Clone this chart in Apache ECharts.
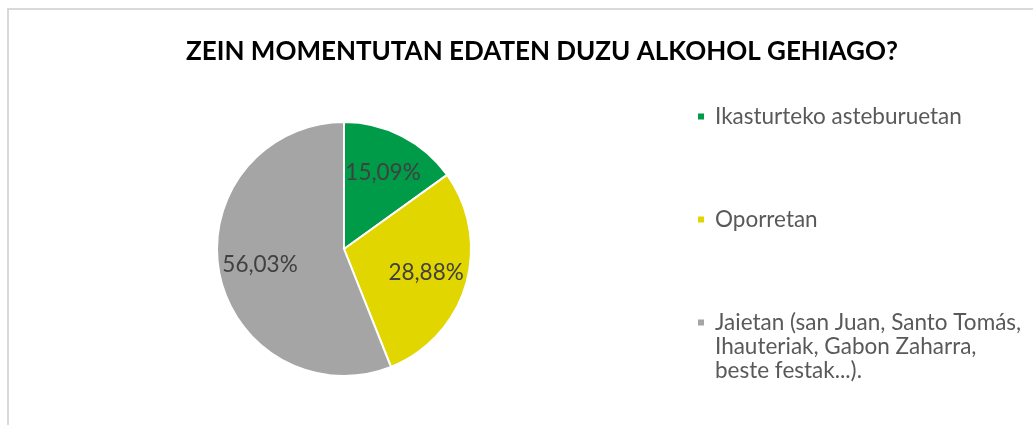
<!DOCTYPE html>
<html>
<head>
<meta charset="utf-8">
<script src="https://cdn.jsdelivr.net/npm/echarts@6/dist/echarts.min.js"></script>
<style>
  html, body { margin: 0; padding: 0; background: #fff; }
  #frame { position: absolute; left: 7px; top: 8px; width: 1100px; height: 500px; border: 2px solid #D9D9D9; box-sizing: border-box; }
  #main { position: absolute; left: 0; top: 0; width: 1033px; height: 425px; }
</style>
</head>
<body>
<div id="frame"></div>
<div id="main"></div>
<script>
// chart data
var categories = ['Ikasturteko asteburuetan', 'Oporretan', 'Jaietan (san Juan, Santo Tomás,\nIhauteriak, Gabon Zaharra,\nbeste festak...).'];
var values = [15.09, 28.88, 56.03];
var colors = ['#009B48', '#E1D600', '#A5A5A5'];

var myChart = echarts.init(document.getElementById('main'));

var pieData = categories.map(function (name, i) {
    return { name: name, value: values[i], itemStyle: { color: colors[i] } };
});

// legend text style (rich so the text can sit a bit further from the marker)
var legendText = {
    rich: {
        t: { fontFamily: 'Lato', fontSize: 22.5, color: '#595959', lineHeight: 24, padding: [0, 0, 0, 5] }
    }
};

function makeLegend(idx, top, prefix) {
    return {
        orient: 'vertical', left: 696, top: top, padding: 0,
        itemWidth: 8, itemHeight: 8, icon: 'rect',
        data: [categories[idx]],
        textStyle: legendText,
        formatter: function (name) { return prefix + '{t|' + name + '}'; }
    };
}

var option = {
    animation: false,
    title: {
        text: 'ZEIN MOMENTUTAN EDATEN DUZU ALKOHOL GEHIAGO?',
        left: 537,
        top: 34,
        textAlign: 'center',
        textStyle: { fontFamily: 'Lato', fontWeight: 'bold', fontSize: 26, color: '#000' }
    },
    legend: [
        makeLegend(0, 105, ''),
        makeLegend(1, 208, ''),
        // two empty lines ahead so the marker lines up with the first text line
        makeLegend(2, 263, '{t|}\n{t|}\n')
    ],
    series: [
        {
            name: 'pie',
            type: 'pie',
            center: [344, 249],
            radius: [0, 127],
            startAngle: 90,
            clockwise: true,
            itemStyle: { borderColor: '#fff', borderWidth: 2 },
            label: { show: false },
            labelLine: { show: false },
            emphasis: { disabled: true },
            data: pieData
        },
        {
            name: 'labels',
            type: 'pie',
            center: [344, 249],
            radius: [38, 127],
            startAngle: 90,
            clockwise: true,
            silent: true,
            itemStyle: { color: 'transparent', borderWidth: 0 },
            label: {
                show: true,
                position: 'inside',
                fontFamily: 'Lato',
                fontSize: 22.5,
                color: '#404040',
                formatter: function (p) { return p.value.toFixed(2).replace('.', ',') + '%'; }
            },
            labelLine: { show: false },
            emphasis: { disabled: true },
            data: categories.map(function (name, i) { return { name: name, value: values[i] }; })
        }
    ]
};

myChart.setOption(option);
</script>
</body>
</html>
